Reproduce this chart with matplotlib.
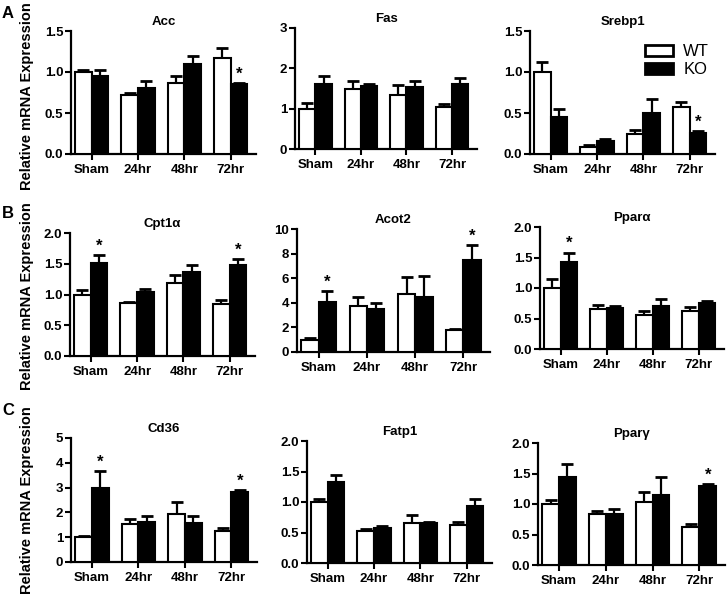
import numpy as np
import matplotlib
matplotlib.use("Agg")
import matplotlib.pyplot as plt
from matplotlib.patches import Patch

plt.rcParams['font.family'] = ['Liberation Sans', 'DejaVu Sans']
plt.rcParams['font.weight'] = 'bold'

groups = ['Sham', '24hr', '48hr', '72hr']

# Acc
acc_wt = [1.00, 0.72, 0.86, 1.17]
acc_wt_err = [0.03, 0.03, 0.09, 0.12]
acc_ko = [0.95, 0.80, 1.10, 0.85]
acc_ko_err = [0.08, 0.09, 0.09, 0.01]
acc_star = [3]

# Fas
fas_wt = [1.00, 1.50, 1.33, 1.03]
fas_wt_err = [0.13, 0.18, 0.25, 0.09]
fas_ko = [1.60, 1.55, 1.53, 1.60]
fas_ko_err = [0.22, 0.05, 0.15, 0.15]
fas_star = []

# Srebp1
srebp_wt = [1.00, 0.09, 0.25, 0.57]
srebp_wt_err = [0.12, 0.02, 0.04, 0.06]
srebp_ko = [0.45, 0.16, 0.50, 0.26]
srebp_ko_err = [0.10, 0.02, 0.17, 0.02]
srebp_star = [3]

# Cpt1a
cpt_wt = [1.00, 0.86, 1.18, 0.85]
cpt_wt_err = [0.07, 0.02, 0.14, 0.06]
cpt_ko = [1.52, 1.04, 1.36, 1.48]
cpt_ko_err = [0.12, 0.05, 0.12, 0.10]
cpt_star = [0, 3]

# Acot2
acot_wt = [1.00, 3.75, 4.75, 1.80]
acot_wt_err = [0.10, 0.75, 1.35, 0.05]
acot_ko = [4.10, 3.50, 4.50, 7.45]
acot_ko_err = [0.85, 0.50, 1.70, 1.25]
acot_star = [0, 3]

# Ppara
ppara_wt = [1.00, 0.65, 0.55, 0.62]
ppara_wt_err = [0.14, 0.07, 0.07, 0.07]
ppara_ko = [1.43, 0.68, 0.70, 0.76]
ppara_ko_err = [0.15, 0.02, 0.12, 0.02]
ppara_star = [0]

# Cd36
cd36_wt = [1.00, 1.52, 1.95, 1.25]
cd36_wt_err = [0.03, 0.23, 0.47, 0.13]
cd36_ko = [3.00, 1.62, 1.58, 2.83]
cd36_ko_err = [0.68, 0.23, 0.27, 0.07]
cd36_star = [0, 3]

# Fatp1
fatp_wt = [1.00, 0.52, 0.65, 0.63]
fatp_wt_err = [0.05, 0.04, 0.13, 0.04]
fatp_ko = [1.32, 0.58, 0.66, 0.93]
fatp_ko_err = [0.13, 0.02, 0.01, 0.12]
fatp_star = []

# Pparg
pparg_wt = [1.00, 0.84, 1.04, 0.63]
pparg_wt_err = [0.07, 0.04, 0.15, 0.05]
pparg_ko = [1.45, 0.83, 1.15, 1.30]
pparg_ko_err = [0.21, 0.09, 0.29, 0.02]
pparg_star = [3]

W, H = 727, 594
fig = plt.figure(figsize=(W / 100, H / 100), dpi=100)


def panel(rect, title, wt, wt_err, ko, ko_err, stars, yticks, ylabels):
    l, t, r, b = rect
    ax = fig.add_axes([l / W, 1 - b / H, (r - l) / W, (b - t) / H])
    x = np.arange(len(groups))
    w = 0.36
    ax.bar(x - w / 2, wt, w, color='white', edgecolor='black', linewidth=1.5, zorder=3)
    ax.bar(x + w / 2, ko, w, color='black', edgecolor='black', linewidth=1.5, zorder=3)
    ax.errorbar(x - w / 2, wt, yerr=[np.zeros(len(wt)), wt_err], fmt='none',
                ecolor='black', elinewidth=1.6, capsize=4, capthick=2, zorder=2)
    ax.errorbar(x + w / 2, ko, yerr=[np.zeros(len(ko)), ko_err], fmt='none',
                ecolor='black', elinewidth=1.6, capsize=4, capthick=2, zorder=2)
    for i in stars:
        ax.annotate('*', (x[i] + w / 2, ko[i] + ko_err[i]), xytext=(0, 1),
                    textcoords='offset points', ha='center', va='bottom', fontsize=12)
    ax.set_xlim(-0.45, 3.55)
    ax.set_ylim(0, yticks[-1])
    ax.set_yticks(yticks)
    ax.set_yticklabels(ylabels)
    ax.set_xticks(x)
    ax.set_xticklabels(groups)
    for s in ['top', 'right']:
        ax.spines[s].set_visible(False)
    for s in ['left', 'bottom']:
        ax.spines[s].set_linewidth(1.6)
    ax.tick_params(axis='both', width=1.5, length=4.5, labelsize=9.5)
    ax.tick_params(axis='y', pad=1)
    ax.tick_params(axis='x', pad=3)
    ax.set_title(title, fontsize=9.5, fontweight='bold', pad=4)
    return ax


t15 = [0, 0.5, 1.0, 1.5]
l15 = ['0.0', '0.5', '1.0', '1.5']
t20 = [0, 0.5, 1.0, 1.5, 2.0]
l20 = ['0.0', '0.5', '1.0', '1.5', '2.0']

panel((71, 31, 256, 154), 'Acc', acc_wt, acc_wt_err, acc_ko, acc_ko_err, acc_star, t15, l15)
panel((295, 28, 477, 149), 'Fas', fas_wt, fas_wt_err, fas_ko, fas_ko_err, fas_star,
      [0, 1, 2, 3], ['0', '1', '2', '3'])
ax_s = panel((530, 31, 715, 154), 'Srebp1', srebp_wt, srebp_wt_err, srebp_ko, srebp_ko_err,
             srebp_star, t15, l15)
panel((70, 233, 255, 356), 'Cpt1α', cpt_wt, cpt_wt_err, cpt_ko, cpt_ko_err, cpt_star, t20, l20)
panel((297, 229, 490, 352), 'Acot2', acot_wt, acot_wt_err, acot_ko, acot_ko_err, acot_star,
      [0, 2, 4, 6, 8, 10], ['0', '2', '4', '6', '8', '10'])
panel((540, 227, 724, 349), 'Pparα', ppara_wt, ppara_wt_err, ppara_ko, ppara_ko_err,
      ppara_star, t20, l20)
panel((71, 438, 257, 562), 'Cd36', cd36_wt, cd36_wt_err, cd36_ko, cd36_ko_err, cd36_star,
      [0, 1, 2, 3, 4, 5], ['0', '1', '2', '3', '4', '5'])
panel((307, 441, 492, 563), 'Fatp1', fatp_wt, fatp_wt_err, fatp_ko, fatp_ko_err, fatp_star,
      t20, l20)
panel((538, 443, 725, 565), 'Pparγ', pparg_wt, pparg_wt_err, pparg_ko, pparg_ko_err,
      pparg_star, t20, l20)

# legend
handles = [Patch(facecolor='white', edgecolor='black', linewidth=2, label='WT'),
           Patch(facecolor='black', edgecolor='black', linewidth=2, label='KO')]
fig.legend(handles=handles, loc='upper left', bbox_to_anchor=(645 / W, 1 - 44 / H),
           frameon=False, borderpad=0, borderaxespad=0, handlelength=1.7,
           handleheight=0.65, labelspacing=0.2, handletextpad=0.6,
           prop={'size': 12, 'weight': 'normal'})

# y labels and panel letters
for yc in [96, 296, 500]:
    fig.text(27 / W, 1 - yc / H, 'Relative mRNA Expression', rotation=90,
             ha='center', va='center', fontsize=10.5, fontweight='bold')
for letter, yb in [('A', 18), ('B', 218), ('C', 415)]:
    fig.text(2 / W, 1 - yb / H, letter, fontsize=12, fontweight='bold', va='baseline')

fig.savefig('out.png', dpi=100)
